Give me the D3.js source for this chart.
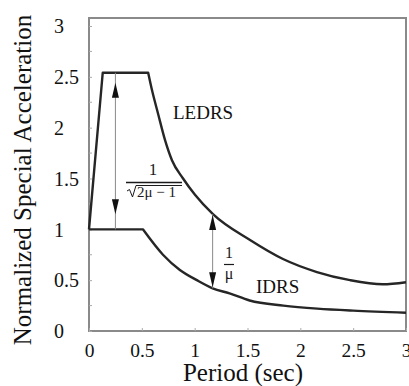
<!DOCTYPE html>
<html>
<head>
<meta charset="utf-8">
<script src="https://cdn.jsdelivr.net/npm/d3@7"></script>
<style>
  body { margin: 0; background: #fff; }
  svg, svg text { font-family: "Liberation Serif", "Times New Roman", serif; }
</style>
</head>
<body>
<div id="chart"></div>
<script>
const width = 409;
const height = 386;

// period (sec) and normalized spectral acceleration
const ledrsT  = [0, 0.13, 0.56, 0.596, 0.653, 0.719, 0.785, 0.89, 1.003, 1.173, 1.524, 1.836, 2.157, 2.47, 2.78, 3.0];
const ledrsSa = [1.0, 2.54, 2.54, 2.37, 2.14, 1.88, 1.68, 1.50, 1.34, 1.15, 0.895, 0.708, 0.58, 0.50, 0.46, 0.48];
const ledrsCorner = 2; // index where plateau ends

const idrsT  = [0, 0.51, 0.70, 0.86, 1.02, 1.17, 1.33, 1.52, 1.84, 2.16, 2.5, 3.0];
const idrsSa = [1.0, 1.0, 0.75, 0.60, 0.50, 0.42, 0.37, 0.30, 0.25, 0.22, 0.20, 0.18];
const idrsCorner = 1;

const xTicks = [0, 0.5, 1, 1.5, 2, 2.5, 3];
const yTicks = [0, 0.5, 1, 1.5, 2, 2.5, 3];
const yMinor = [0.25, 0.75, 1.25, 1.75, 2.25, 2.75];

// annotation arrows: period, top value, bottom value
const arrow1 = [0.25, 2.54, 1.0];
const arrow2 = [1.17, 1.15, 0.42];

const x = d3.scaleLinear().domain([0, 3]).range([89, 406]);
const y = d3.scaleLinear().domain([0, 3]).range([331, 26]);

const svg = d3.select('#chart')
    .append('svg')
    .attr('width', width)
    .attr('height', height);

// frame
svg.append('rect')
    .attr('x', x(0))
    .attr('y', 18)
    .attr('width', x(3) - x(0))
    .attr('height', y(0) - 18)
    .attr('fill', 'none')
    .attr('stroke', '#8a8a8a')
    .attr('stroke-width', 2);

// x axis
const gx = svg.append('g')
    .attr('transform', `translate(0,${y(0)})`)
    .call(d3.axisBottom(x).tickValues(xTicks).tickFormat(d3.format('')).tickSize(-3).tickPadding(12));
gx.attr('font-family', null).attr('font-size', null);
gx.select('.domain').remove();
gx.selectAll('line').attr('stroke', '#aaa');
gx.selectAll('text')
    .style('font-family', '"Liberation Serif", serif')
    .style('font-size', '19.5px')
    .attr('fill', '#111');

// y axis
const gy = svg.append('g')
    .attr('transform', `translate(${x(0)},0)`)
    .call(d3.axisLeft(y).tickValues(yTicks).tickFormat(d3.format('')).tickSize(-3));
gy.attr('font-family', null).attr('font-size', null);
gy.select('.domain').remove();
gy.selectAll('line').attr('stroke', '#aaa');
gy.selectAll('text')
    .attr('text-anchor', 'start')
    .attr('x', 54 - x(0))
    .attr('dy', '0.34em')
    .style('font-family', '"Liberation Serif", serif')
    .style('font-size', '20px')
    .attr('fill', '#111');

svg.append('g').selectAll('line')
    .data(yMinor)
    .join('line')
    .attr('x1', x(0)).attr('x2', x(0) + 3)
    .attr('y1', d => y(d)).attr('y2', d => y(d))
    .attr('stroke', '#aaa');

// axis titles
svg.append('text')
    .attr('x', 243)
    .attr('y', 381)
    .attr('text-anchor', 'middle')
    .attr('font-size', 25)
    .attr('fill', '#111')
    .text('Period (sec)');

svg.append('text')
    .attr('transform', 'translate(31,180) rotate(-90)')
    .attr('text-anchor', 'middle')
    .attr('font-size', 25)
    .attr('fill', '#111')
    .text('Normalized Special Acceleration');

// spectra: straight rise/plateau, smooth descending branch
function drawSpectrum(ts, vals, corner) {
    const pts = ts.map((t, i) => [t, vals[i]]);
    const straight = d3.line().x(d => x(d[0])).y(d => y(d[1]));
    const smooth = d3.line().x(d => x(d[0])).y(d => y(d[1])).curve(d3.curveMonotoneX);
    svg.append('path')
        .attr('d', straight(pts.slice(0, corner + 1)) + smooth(pts.slice(corner)).replace('M', 'L'))
        .attr('fill', 'none')
        .attr('stroke', '#262626')
        .attr('stroke-width', 2.4)
        .attr('stroke-linejoin', 'round');
}
drawSpectrum(ledrsT, ledrsSa, ledrsCorner);
drawSpectrum(idrsT, idrsSa, idrsCorner);

// arrows
function head(px, tipY, dir) {
    // dir = -1 points up, +1 points down
    const len = 15, hw = 3.5;
    svg.append('path')
        .attr('d', `M${px},${tipY} L${px - hw},${tipY - dir * len} L${px + hw},${tipY - dir * len} Z`)
        .attr('fill', '#111');
}
function drawArrow(a, gapTop, gapBottom) {
    const px = x(a[0]);
    svg.append('line')
        .attr('x1', px).attr('x2', px)
        .attr('y1', y(a[1])).attr('y2', y(a[2]))
        .attr('stroke', '#8a8a8a')
        .attr('stroke-width', 1);
    head(px, y(a[1]) + gapTop, -1);
    head(px, y(a[2]) - gapBottom, 1);
}
drawArrow(arrow1, 10, 15);
drawArrow(arrow2, 1, 1);

// labels
svg.append('text')
    .attr('x', 173).attr('y', 119)
    .attr('font-size', 19)
    .attr('fill', '#111')
    .text('LEDRS');

svg.append('text')
    .attr('x', 256).attr('y', 293)
    .attr('font-size', 19)
    .attr('fill', '#111')
    .text('IDRS');

// 1 / sqrt(2mu - 1)
const frac = svg.append('g').attr('fill', '#1a1a1a');
frac.append('text')
    .attr('x', 153).attr('y', 175)
    .attr('text-anchor', 'middle')
    .attr('font-size', 17)
    .text('1');
frac.append('line')
    .attr('x1', 126).attr('x2', 182)
    .attr('y1', 182.5).attr('y2', 182.5)
    .attr('stroke', '#1a1a1a').attr('stroke-width', 1.3);
frac.append('path')
    .attr('d', 'M127,191 L129.5,189.5 L132.5,197 L136,185.5 L182,185.5')
    .attr('fill', 'none')
    .attr('stroke', '#1a1a1a')
    .attr('stroke-width', 1);
frac.append('text')
    .attr('x', 137).attr('y', 197)
    .attr('font-size', 15)
    .text('2μ − 1');

// 1 / mu
const frac2 = svg.append('g').attr('fill', '#1a1a1a');
frac2.append('text')
    .attr('x', 229).attr('y', 258)
    .attr('text-anchor', 'middle')
    .attr('font-size', 16)
    .text('1');
frac2.append('line')
    .attr('x1', 224).attr('x2', 234)
    .attr('y1', 264.5).attr('y2', 264.5)
    .attr('stroke', '#1a1a1a').attr('stroke-width', 1.2);
frac2.append('text')
    .attr('x', 229).attr('y', 279)
    .attr('text-anchor', 'middle')
    .attr('font-size', 16)
    .text('μ');
</script>
</body>
</html>
